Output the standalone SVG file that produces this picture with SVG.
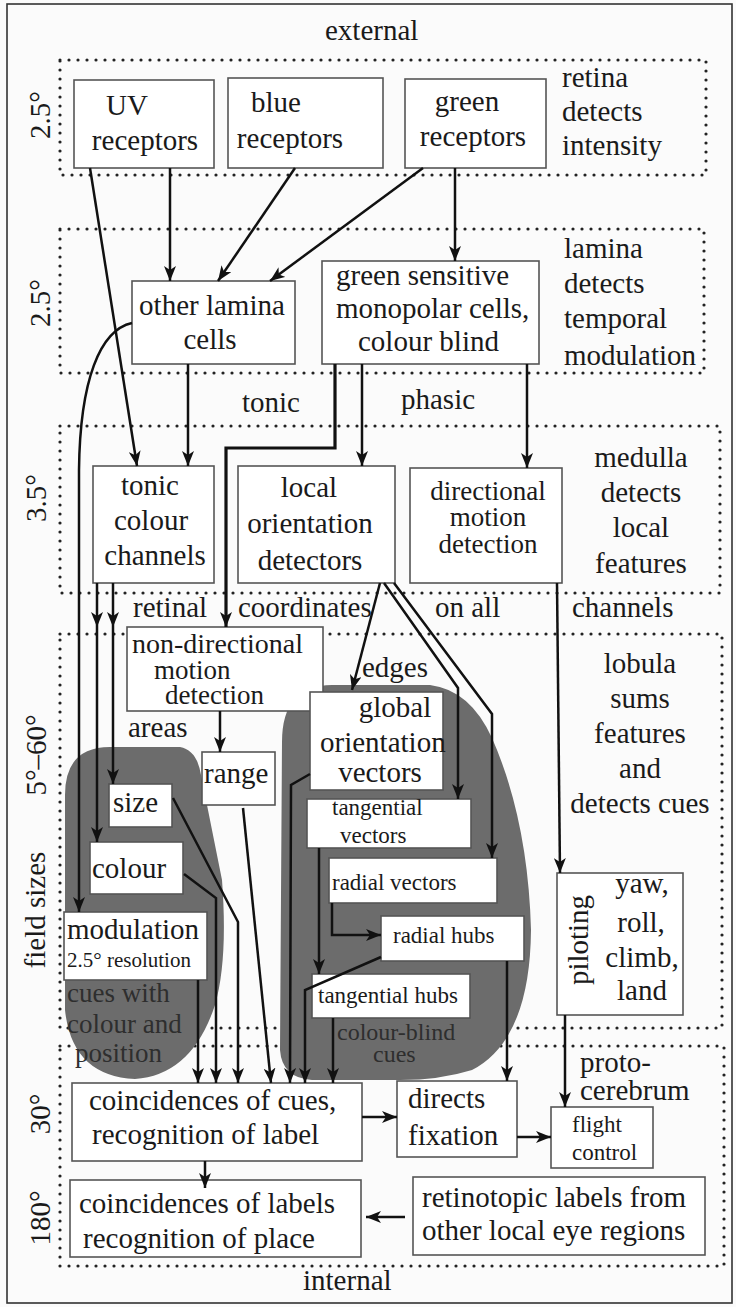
<svg xmlns="http://www.w3.org/2000/svg" width="736" height="1307" viewBox="0 0 736 1307" font-family="'Liberation Serif', 'Times New Roman', 'DejaVu Serif', serif">
<defs>
<marker id="ah" viewBox="0 0 15 12" refX="15" refY="6" markerWidth="15" markerHeight="12" markerUnits="userSpaceOnUse" orient="auto">
<path d="M15,6 L0,0 L4,6 L0,12 Z" fill="#111"/>
</marker>
<style>
.dot{fill:none;stroke:#222;stroke-width:3.2;stroke-dasharray:0 9;stroke-linecap:round}
.box{fill:#fff;stroke:#555;stroke-width:1.6}
.blob{fill:#6c6c6c;stroke:none}
.c{fill:none;stroke:#111;stroke-width:2.5;marker-end:url(#ah)}
.cm{fill:none;stroke:#111;stroke-width:2.5;marker-mid:url(#ah);marker-end:url(#ah)}
.t{font-family:'Liberation Serif', 'Times New Roman', serif;font-size:29px;fill:#1a1a1a}
.s{font-family:'Liberation Serif', 'Times New Roman', serif;font-size:23px;fill:#1a1a1a}
.m{text-anchor:middle}
.d{fill:#2e2e2e}
.tight{font-size:27px}
</style>
</defs>
<rect x="0" y="0" width="736" height="1307" fill="#fbfbfb"/>
<rect x="7" y="4" width="725" height="1299" fill="none" stroke="#333" stroke-width="1.6"/>

<g id="regions">
<rect class="dot" x="60" y="60" width="646" height="115"/>
<rect class="dot" x="60" y="229" width="644" height="144"/>
<rect class="dot" x="60" y="426" width="660" height="167"/>
<rect class="dot" x="60" y="634" width="662" height="394"/>
<rect class="dot" x="60" y="1046" width="664" height="220"/>
</g>

<g id="blobs">
<path class="blob" d="M65,795 Q65,747 110,747 L180,747 Q197,750 201,775 L222,880 Q228,960 215,1005 Q192,1075 135,1079 Q72,1076 65,1010 Z"/>
<path class="blob" d="M282,742 Q282,685 332,685 L430,685 Q470,690 492,738 Q528,820 531,930 Q530,1040 472,1070 Q440,1080 400,1080 L312,1080 Q282,1078 280,1050 Z"/>
</g>

<g id="labels">
<text class="t" x="325" y="40">external</text>
<text class="t" x="303" y="1290">internal</text>
<text class="t m" transform="translate(50,115) rotate(-90)">2.5°</text>
<text class="t m" transform="translate(50,303) rotate(-90)">2.5°</text>
<text class="t m" transform="translate(46,498) rotate(-90)">3.5°</text>
<text class="t m" transform="translate(46,755) rotate(-90)">5°–60°</text>
<text class="t m" transform="translate(45,910) rotate(-90)">field sizes</text>
<text class="t m" transform="translate(50,1114) rotate(-90)">30°</text>
<text class="t m" transform="translate(50,1218) rotate(-90)">180°</text>
<text class="t" x="562" y="87">retina</text>
<text class="t" x="562" y="121">detects</text>
<text class="t" x="562" y="155">intensity</text>
<text class="t" x="564" y="258">lamina</text>
<text class="t" x="564" y="293">detects</text>
<text class="t" x="564" y="328">temporal</text>
<text class="t" x="564" y="365">modulation</text>
<text class="t" x="242" y="412">tonic</text>
<text class="t" x="401" y="409">phasic</text>
<text class="t m" x="641" y="467">medulla</text>
<text class="t m" x="641" y="502">detects</text>
<text class="t m" x="641" y="537">local</text>
<text class="t m" x="641" y="573">features</text>
<text class="t" x="133" y="617">retinal</text>
<text class="t" x="238" y="617">coordinates</text>
<text class="t" x="435" y="617">on all</text>
<text class="t" x="572" y="617">channels</text>
<text class="t m" x="640" y="673">lobula</text>
<text class="t m" x="640" y="708">sums</text>
<text class="t m" x="640" y="743">features</text>
<text class="t m" x="640" y="778">and</text>
<text class="t m" x="640" y="813">detects cues</text>
<text class="t" x="128" y="737">areas</text>
<text class="t" x="362" y="677">edges</text>
<text class="t d" x="67" y="1002" style="font-size:27px">cues with</text>
<text class="t d" x="67" y="1033" style="font-size:27px">colour and</text>
<text class="t d" x="75" y="1062" style="font-size:27px">position</text>
<text class="s d" x="337" y="1040" style="font-size:24px">colour-blind</text>
<text class="s d" x="373" y="1062" style="font-size:24px">cues</text>
<text class="t" x="580" y="1072">proto-</text>
<text class="t" x="580" y="1100">cerebrum</text>
</g>

<g id="n-uv"><rect class="box" x="74" y="80" width="140" height="88"/>
<text class="t m" x="127" y="115">UV</text><text class="t m" x="145" y="150">receptors</text></g>
<g id="n-blue"><rect class="box" x="228" y="78" width="155" height="90"/>
<text class="t m" x="276" y="112">blue</text><text class="t m" x="290" y="148">receptors</text></g>
<g id="n-green"><rect class="box" x="405" y="79" width="141" height="89"/>
<text class="t m" x="467" y="111">green</text><text class="t m" x="473" y="146">receptors</text></g>
<g id="n-otherlamina"><rect class="box" x="132" y="281" width="163" height="83"/>
<text class="t m" x="212" y="315">other lamina</text><text class="t m" x="210" y="349">cells</text></g>
<g id="n-monopolar"><rect class="box" x="322" y="261" width="217" height="103"/>
<text class="t" x="336" y="285">green sensitive</text><text class="t" x="336" y="318">monopolar cells,</text><text class="t" x="358" y="351">colour blind</text></g>
<g id="n-tonic"><rect class="box" x="93" y="466" width="121" height="117"/>
<text class="t m" x="150" y="495">tonic</text><text class="t m" x="151" y="530">colour</text><text class="t m" x="155" y="565">channels</text></g>
<g id="n-localor"><rect class="box" x="238" y="466" width="157" height="117"/>
<text class="t m" x="309" y="497">local</text><text class="t m" x="310" y="533">orientation</text><text class="t m" x="310" y="570">detectors</text></g>
<g id="n-directional"><rect class="box" x="410" y="468" width="152" height="115"/>
<text class="t m tight" x="488" y="500">directional</text><text class="t m tight" x="488" y="526">motion</text><text class="t m tight" x="488" y="553">detection</text></g>
<g id="n-nondir"><rect class="box" x="127" y="627" width="196" height="84"/>
<text class="t tight" x="132" y="653" style="font-size:28px">non-directional</text><text class="t tight" x="154" y="679">motion</text><text class="t tight" x="165" y="704">detection</text></g>
<g id="n-range"><rect class="box" x="202" y="752" width="73" height="53"/>
<text class="t" x="204" y="783">range</text></g>
<g id="n-size"><rect class="box" x="109" y="784" width="63" height="43"/>
<text class="t" x="113" y="812">size</text></g>
<g id="n-colour"><rect class="box" x="90" y="842" width="93" height="52"/>
<text class="t" x="92" y="878">colour</text></g>
<g id="n-modulation"><rect class="box" x="64" y="912" width="143" height="68"/>
<text class="t" x="67" y="939">modulation</text><text class="s" x="67" y="967" style="font-size:21px">2.5° resolution</text></g>
<g id="n-global"><rect class="box" x="310" y="692" width="133" height="98"/>
<text class="t m" x="395" y="717">global</text><text class="t" x="320" y="752">orientation</text><text class="t m" x="380" y="782">vectors</text></g>
<g id="n-tanvec"><rect class="box" x="307" y="799" width="164" height="49"/>
<text class="s" x="332" y="815">tangential</text><text class="s" x="340" y="843">vectors</text></g>
<g id="n-radvec"><rect class="box" x="329" y="858" width="168" height="45"/>
<text class="s" x="332" y="890">radial vectors</text></g>
<g id="n-radhubs"><rect class="box" x="381" y="916" width="143" height="45"/>
<text class="s" x="393" y="943">radial hubs</text></g>
<g id="n-tanhubs"><rect class="box" x="312" y="974" width="158" height="44"/>
<text class="s" x="318" y="1003">tangential hubs</text></g>
<g id="n-piloting"><rect class="box" x="557" y="873" width="126" height="142"/>
<text class="t m" transform="translate(588,940) rotate(-90)">piloting</text>
<text class="t m" x="642" y="893">yaw,</text><text class="t m" x="641" y="932">roll,</text><text class="t m" x="642" y="967">climb,</text><text class="t m" x="642" y="1000">land</text></g>
<g id="n-coincues"><rect class="box" x="72" y="1083" width="290" height="78"/>
<text class="t" x="89" y="1110">coincidences of cues,</text><text class="t" x="92" y="1144">recognition of label</text></g>
<g id="n-coinlabels"><rect class="box" x="70" y="1180" width="291" height="77"/>
<text class="t" x="79" y="1213">coincidences of labels</text><text class="t" x="83" y="1248">recognition of place</text></g>
<g id="n-fixation"><rect class="box" x="397" y="1081" width="120" height="76"/>
<text class="t" x="408" y="1108">directs</text><text class="t" x="408" y="1145">fixation</text></g>
<g id="n-flight"><rect class="box" x="551" y="1107" width="102" height="61"/>
<text class="s" x="572" y="1132">flight</text><text class="s" x="572" y="1160">control</text></g>
<g id="n-retinotopic"><rect class="box" x="413" y="1177" width="292" height="78"/>
<text class="t" x="422" y="1207">retinotopic labels from</text><text class="t" x="422" y="1240">other local eye regions</text></g>

<g id="connectors">
<path class="c" d="M90,168 L137,466"/>
<path class="c" d="M170,168 L170,281"/>
<path class="c" d="M295,168 L218,281"/>
<path class="c" d="M423,168 L270,281"/>
<path class="c" d="M455,168 L455,261"/>
<path class="c" d="M188,364 L188,466"/>
<path class="c" d="M132,323 C100,330 80,380 79,470 L79,912"/>
<path class="c" style="stroke-width:3.2" d="M335,364 L335,448 L226,448 L226,627"/>
<path class="c" d="M362,364 L362,466"/>
<path class="c" d="M527,364 L527,468"/>
<path class="cm" d="M97,583 L97,627 L97,842"/>
<path class="cm" d="M113,583 L113,627 L113,784"/>
<path class="c" d="M220,711 L220,752"/>
<path class="c" d="M380,583 L352,690"/>
<path class="c" d="M384,583 L458,688 L458,799"/>
<path class="c" d="M394,583 L492,714 L492,858"/>
<path class="c" d="M557,583 L560,873"/>
<path class="c" d="M565,1015 L565,1107"/>
<path class="c" d="M198,980 L198,1083"/>
<path class="c" d="M184,874 L216,898 L216,1083"/>
<path class="c" d="M173,798 L238,922 L238,1083"/>
<path class="c" d="M243,808 L271,1083"/>
<path class="c" d="M310,774 L291,785 L290,1083"/>
<path class="c" d="M381,957 L305,990 L305,1083"/>
<path class="c" d="M319,848 L319,974"/>
<path class="c" d="M333,1018 L333,1083"/>
<path class="c" d="M332,903 L332,935 L381,935"/>
<path class="c" d="M507,961 L507,1081"/>
<path class="c" d="M362,1117 L397,1117"/>
<path class="c" d="M517,1137 L551,1137"/>
<path class="c" d="M205,1161 L205,1188"/>
<path class="c" d="M405,1217 L366,1217"/>
</g>
</svg>
